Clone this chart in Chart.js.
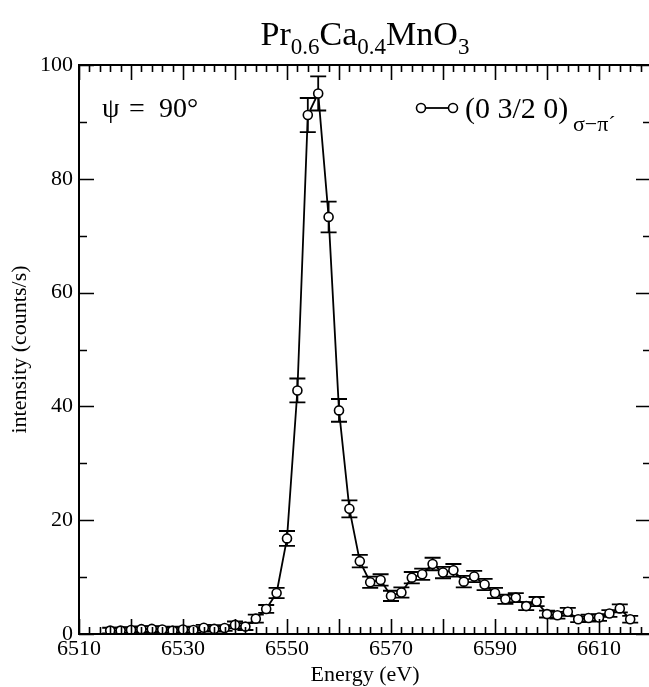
<!DOCTYPE html>
<html><head><meta charset="utf-8">
<script src="https://cdn.jsdelivr.net/npm/chart.js@4/dist/chart.umd.min.js"></script>
<style>html,body{margin:0;padding:0;overflow:hidden;background:#fff;width:649px;height:687px}canvas{display:block}</style>
</head><body>
<canvas id="c" width="680" height="687" style="width:680px;height:687px"></canvas>
<script>
const energy = [6516,6518,6520,6522,6524,6526,6528,6530,6532,6534,6536,6538,6540,6542,6544,6546,6548,6550,6552,6554,6556,6558,6560,6562,6564,6566,6568,6570,6572,6574,6576,6578,6580,6582,6584,6586,6588,6590,6592,6594,6596,6598,6600,6602,6604,6606,6608,6610,6612,6614,6616];
const intensity = [0.6,0.6,0.7,0.85,0.9,0.8,0.6,0.8,0.7,1.1,0.9,1.05,1.6,1.3,2.7,4.4,7.2,16.8,42.8,91.2,95.0,73.3,39.3,22.0,12.8,9.1,9.5,6.7,7.3,9.9,10.5,12.3,10.8,11.2,9.2,10.1,8.7,7.2,6.1,6.4,4.9,5.7,3.5,3.3,3.9,2.6,2.8,2.9,3.6,4.5,2.6];
const intensityErr = [0.5,0.5,0.5,0.5,0.5,0.5,0.5,0.5,0.5,0.5,0.5,0.5,0.6,0.6,0.7,0.7,0.9,1.3,2.1,3.0,3.0,2.7,2.0,1.5,1.1,1.0,1.0,0.9,0.9,1.0,1.0,1.1,1.0,1.1,1.0,1.0,1.0,0.9,0.8,0.8,0.7,0.8,0.6,0.6,0.7,0.5,0.6,0.6,0.6,0.7,0.6];
const xTickValues = [6510,6530,6550,6570,6590,6610];
const yTickValues = [0,20,40,60,80,100];
const xMajorTicks = [6510,6520,6530,6540,6550,6560,6570,6580,6590,6600,6610,6620];
const yMajorTicks = [0,20,40,60,80,100];
const yMinorTicks = [10,30,50,70,90];
const titleParts = [["Pr",0],["0.6",1],["Ca",0],["0.4",1],["MnO",0],["3",1]];
const legendLabel = "(0 3/2 0)";
const legendSub = "σ−π´";
const angleParts = [["ψ",102],["=",129],["90°",159]];

const fam = '"Liberation Serif","DejaVu Serif",serif';

const decor = {
  id: 'decor',
  beforeDatasetsDraw(chart) {
    const {ctx, scales: {x, y}} = chart;
    ctx.save();
    ctx.strokeStyle = '#000';
    ctx.lineWidth = 1.8;
    energy.forEach((e, i) => {
      const px = x.getPixelForValue(e);
      const t = y.getPixelForValue(intensity[i] + intensityErr[i]);
      const b = y.getPixelForValue(Math.max(0, intensity[i] - intensityErr[i]));
      ctx.beginPath();
      ctx.moveTo(px, t); ctx.lineTo(px, b);
      ctx.moveTo(px - 8, t); ctx.lineTo(px + 8, t);
      ctx.moveTo(px - 8, b); ctx.lineTo(px + 8, b);
      ctx.stroke();
    });
    ctx.restore();
  },
  afterDraw(chart) {
    const {ctx, chartArea: a, scales: {x, y}} = chart;
    ctx.save();
    ctx.strokeStyle = '#000';
    ctx.fillStyle = '#000';
    ctx.lineWidth = 2;
    ctx.strokeRect(a.left, a.top, a.right - a.left, a.bottom - a.top);
    ctx.beginPath();
    for (let v = x.min; v <= x.max + 1e-6; v += 2) {
      const px = Math.round(x.getPixelForValue(v)) + 0.5;
      const len = xMajorTicks.includes(v) ? 15 : 7;
      ctx.moveTo(px, a.bottom); ctx.lineTo(px, a.bottom - len);
      ctx.moveTo(px, a.top); ctx.lineTo(px, a.top + len);
    }
    yMajorTicks.forEach(v => {
      const py = Math.round(y.getPixelForValue(v)) + 0.5;
      ctx.moveTo(a.left, py); ctx.lineTo(a.left + 15, py);
      ctx.moveTo(a.right, py); ctx.lineTo(a.right - 15, py);
    });
    yMinorTicks.forEach(v => {
      const py = Math.round(y.getPixelForValue(v)) + 0.5;
      ctx.moveTo(a.left, py); ctx.lineTo(a.left + 8, py);
      ctx.moveTo(a.right, py); ctx.lineTo(a.right - 8, py);
    });
    ctx.lineWidth = 1.6;
    ctx.stroke();

    // title
    const big = '34px ' + fam, small = '23px ' + fam;
    let w = 0;
    titleParts.forEach(p => { ctx.font = p[1] ? small : big; w += ctx.measureText(p[0]).width; });
    let tx = (a.left + a.right) / 2 - w / 2;
    ctx.textBaseline = 'alphabetic';
    ctx.textAlign = 'left';
    titleParts.forEach(p => {
      ctx.font = p[1] ? small : big;
      ctx.fillText(p[0], tx, p[1] ? 54 : 45);
      tx += ctx.measureText(p[0]).width;
    });

    // angle label
    ctx.font = '28px ' + fam;
    angleParts.forEach(p => ctx.fillText(p[0], p[1], 117));

    // legend
    ctx.beginPath();
    ctx.moveTo(421, 108); ctx.lineTo(453, 108);
    ctx.lineWidth = 1.8;
    ctx.stroke();
    [421, 453].forEach(cx => {
      ctx.beginPath();
      ctx.arc(cx, 108, 4.5, 0, Math.PI * 2);
      ctx.fillStyle = '#fff'; ctx.fill();
      ctx.lineWidth = 1.6; ctx.stroke();
    });
    ctx.fillStyle = '#000';
    ctx.font = '30px ' + fam;
    ctx.fillText(legendLabel, 465, 118);
    ctx.font = '22px ' + fam;
    ctx.fillText(legendSub, 573, 131);
    ctx.restore();
  }
};

new Chart(document.getElementById('c'), {
  type: 'line',
  data: {
    datasets: [{
      data: energy.map((e, i) => ({x: e, y: intensity[i]})),
      borderColor: '#000',
      borderWidth: 1.8,
      pointRadius: 4.5,
      pointBackgroundColor: '#fff',
      pointBorderColor: '#000',
      pointBorderWidth: 1.6,
      tension: 0,
      fill: false
    }]
  },
  options: {
    responsive: false,
    animation: false,
    events: [],
    layout: {padding: {left: 0, right: 29, top: 65, bottom: 0}},
    plugins: {legend: {display: false}, tooltip: {enabled: false}},
    scales: {
      x: {
        type: 'linear', min: 6510, max: 6620,
        afterBuildTicks: s => { s.ticks = xTickValues.map(v => ({value: v})); },
        afterFit: s => { s.height = 53; },
        grid: {display: false, drawTicks: false},
        border: {display: false},
        ticks: {padding: 2, color: '#000', font: {family: fam, size: 22}, maxRotation: 0, autoSkip: false, callback: v => String(v)},
        title: {display: true, text: 'Energy (eV)', color: '#000', font: {family: fam, size: 22, lineHeight: 1}, padding: {top: 0, bottom: 1}}
      },
      y: {
        type: 'linear', min: 0, max: 100,
        afterBuildTicks: s => { s.ticks = yTickValues.map(v => ({value: v})); },
        afterFit: s => { s.width = 79; },
        grid: {display: false, drawTicks: false},
        border: {display: false},
        ticks: {padding: 6, color: '#000', font: {family: fam, size: 22}, autoSkip: false, callback: v => String(v)},
        title: {display: true, text: 'intensity (counts/s)', color: '#000', font: {family: fam, size: 22, lineHeight: 1}, padding: {top: 9, bottom: 0}}
      }
    }
  },
  plugins: [decor]
});
</script>
</body></html>
